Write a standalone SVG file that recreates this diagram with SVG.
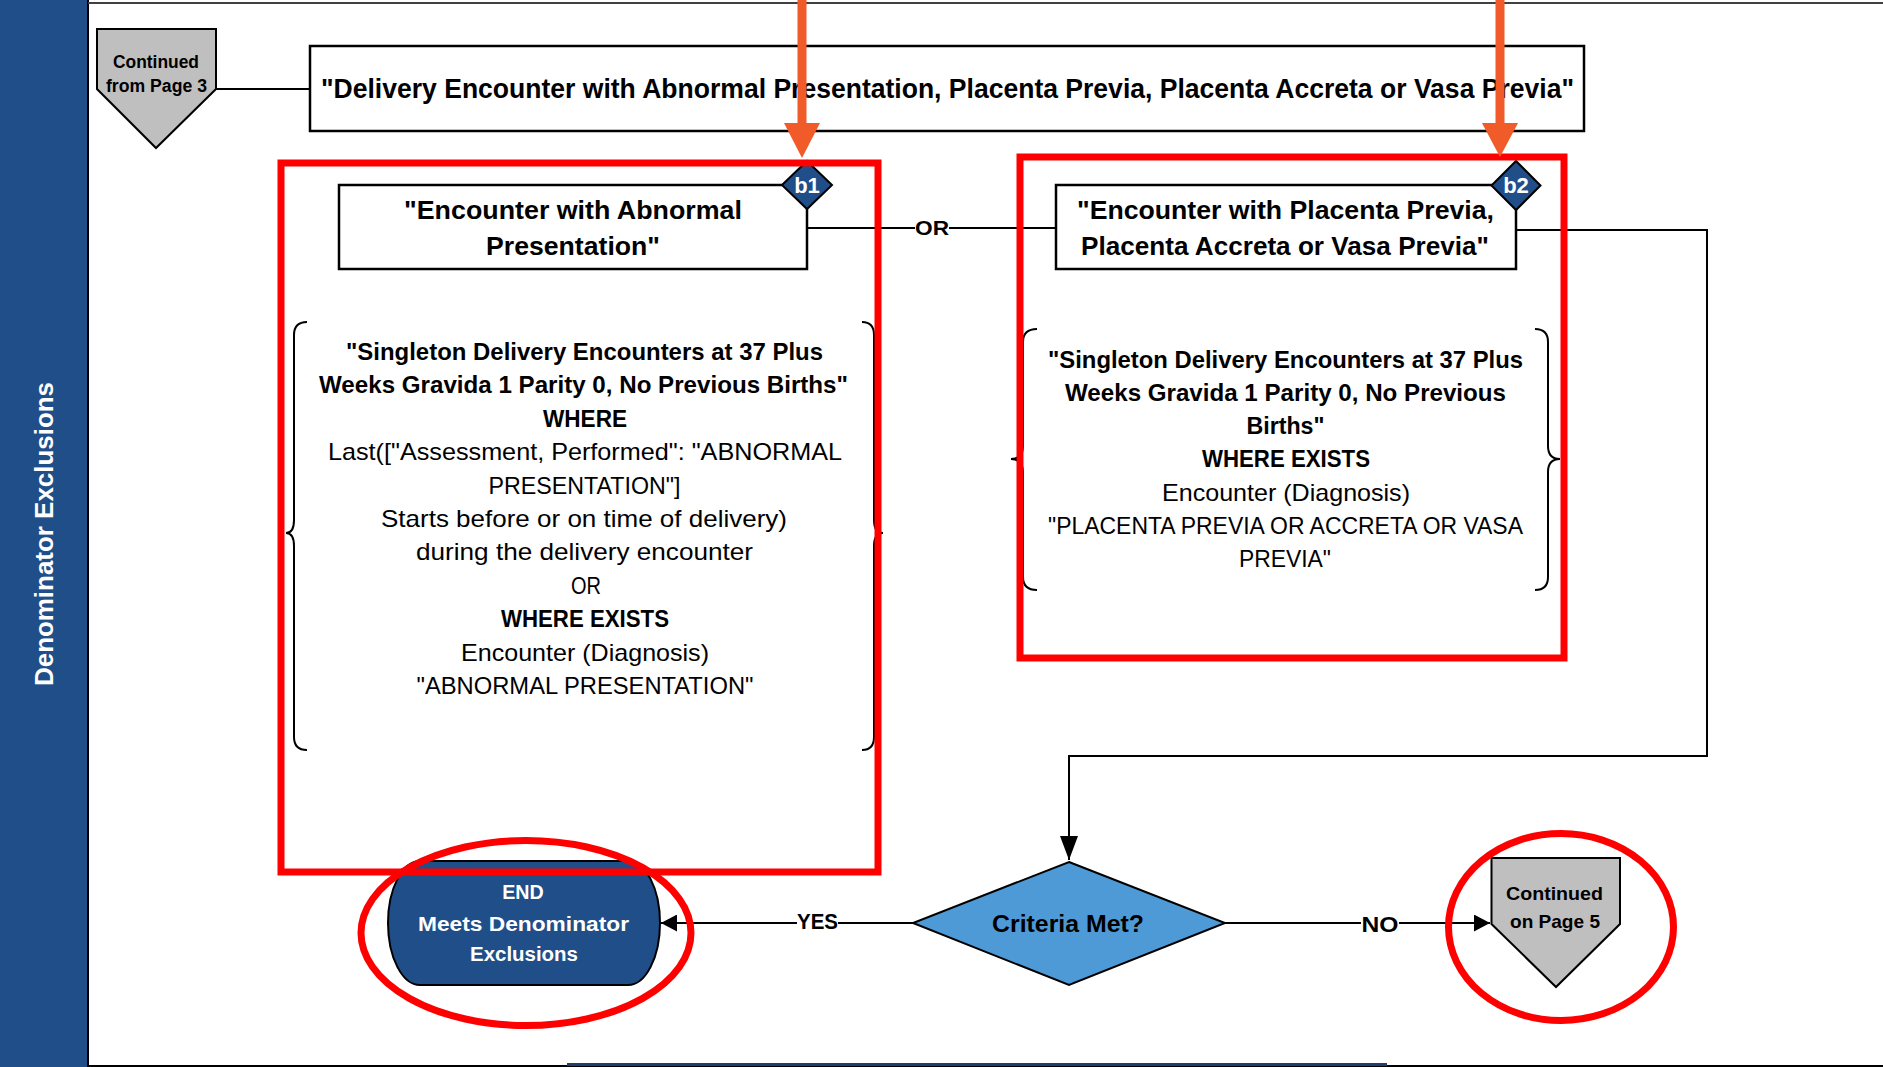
<svg xmlns="http://www.w3.org/2000/svg" width="1883" height="1067" viewBox="0 0 1883 1067">
<defs>
<style>
text{font-family:"Liberation Sans",Arial,sans-serif;text-anchor:middle;fill:#000}
.b{font-weight:bold}
.w{fill:#fff}
.box{fill:#fff;stroke:#000;stroke-width:2.5}
.conn{fill:none;stroke:#000;stroke-width:2}
.red{fill:none;stroke:#ff0000;stroke-width:7}
.brace{fill:none;stroke:#000;stroke-width:2}
.tag{fill:#1f4e88;stroke:#000;stroke-width:2}
.off{fill:#bfbfbf;stroke:#000;stroke-width:2}
.orange{stroke:#f15a29;stroke-width:9}
.orangehead{fill:#f15a29}
.lbg{fill:#fff}
.body{font-size:24px}
.title{font-size:26px}
</style>
<marker id="ah" markerWidth="16" markerHeight="17" refX="16" refY="8.5" orient="auto" markerUnits="userSpaceOnUse"><path d="M0,0 L16,8.5 L0,17 Z" fill="#000"/></marker>
<marker id="ahL" markerWidth="24" markerHeight="18" refX="24" refY="9" orient="auto" markerUnits="userSpaceOnUse"><path d="M0,0 L24,9 L0,18 Z" fill="#000"/></marker>
</defs>
<rect x="0" y="0" width="1883" height="1067" fill="#fff"/>
<g id="lane">
<rect x="0" y="0" width="88" height="1067" fill="#1f4e88"/>
<line x1="88" y1="0" x2="88" y2="1067" stroke="#000" stroke-width="2"/>
<line x1="88" y1="3" x2="1883" y2="3" stroke="#404040" stroke-width="2"/>
<line x1="88" y1="1066" x2="1883" y2="1066" stroke="#000" stroke-width="2"/>
<line x1="567" y1="1064.5" x2="1387" y2="1064.5" stroke="#1f3f6e" stroke-width="3"/>
<text class="b w" transform="translate(53,534) rotate(-90)" x="0" y="0" font-size="26" textLength="304" lengthAdjust="spacingAndGlyphs">Denominator Exclusions</text>
</g>
<g id="connectors">
<line class="conn" x1="216" y1="89" x2="310" y2="89"/>
<line class="conn" x1="807" y1="228" x2="1056" y2="228"/>
<rect class="lbg" x="915" y="218" width="34" height="20"/>
<text class="b" x="932" y="235" font-size="21" textLength="34" lengthAdjust="spacingAndGlyphs">OR</text>
<path class="conn" d="M1516,230 L1707,230 L1707,756 L1069,756 L1069,860" marker-end="url(#ahL)"/>
<line class="conn" x1="913" y1="923" x2="661" y2="923" marker-end="url(#ah)"/>
<rect class="lbg" x="797" y="911" width="41" height="21"/>
<text class="b" x="817.5" y="928.5" font-size="22" textLength="41" lengthAdjust="spacingAndGlyphs">YES</text>
<line class="conn" x1="1225" y1="923" x2="1490" y2="923" marker-end="url(#ah)"/>
<rect class="lbg" x="1361" y="913" width="38" height="20"/>
<text class="b" x="1380" y="931.5" font-size="22" textLength="37" lengthAdjust="spacingAndGlyphs">NO</text>
</g>
<g id="from-page-3">
<polygon class="off" points="97,29 216,29 216,89 156,148 97,89"/>
<text class="b" x="156" y="68" font-size="17.5" textLength="86" lengthAdjust="spacingAndGlyphs">Continued</text>
<text class="b" x="156.5" y="91.5" font-size="17.5" textLength="101" lengthAdjust="spacingAndGlyphs">from Page 3</text>
</g>
<g id="header">
<rect class="box" x="310" y="46" width="1274" height="85"/>
<text class="b" x="947.5" y="97.5" font-size="27" textLength="1253" lengthAdjust="spacingAndGlyphs">"Delivery Encounter with Abnormal Presentation, Placenta Previa, Placenta Accreta or Vasa Previa"</text>
</g>
<g id="b1">
<rect class="box" x="339" y="185" width="468" height="84"/>
<text class="b title" x="573" y="218.5" textLength="338" lengthAdjust="spacingAndGlyphs">"Encounter with Abnormal</text>
<text class="b title" x="573" y="254.5" textLength="174" lengthAdjust="spacingAndGlyphs">Presentation"</text>
<polygon class="tag" points="807,161 832,185 807,209 782,185"/>
<text class="b w" x="807" y="193" font-size="22">b1</text>
</g>
<g id="b1-criteria">
<path class="brace" d="M307,322 Q294,322 294,335 L294,520 Q294,533 286,533 Q294,533 294,546 L294,737 Q294,750 307,750"/>
<path class="brace" d="M862,322 Q874,322 874,335 L874,520 Q874,533 883,533 Q874,533 874,546 L874,737 Q874,750 862,750"/>
<text class="b body" x="584.5" y="360" textLength="477" lengthAdjust="spacingAndGlyphs">"Singleton Delivery Encounters at 37 Plus</text>
<text class="b body" x="583.5" y="393.4" textLength="529" lengthAdjust="spacingAndGlyphs">Weeks Gravida 1 Parity 0, No Previous Births"</text>
<text class="b body" x="585" y="426.8" textLength="84" lengthAdjust="spacingAndGlyphs">WHERE</text>
<text class="body" x="585" y="460.2" textLength="514" lengthAdjust="spacingAndGlyphs">Last(["Assessment, Performed": "ABNORMAL</text>
<text class="body" x="584.5" y="493.6" textLength="192" lengthAdjust="spacingAndGlyphs">PRESENTATION"]</text>
<text class="body" x="584" y="527" textLength="406" lengthAdjust="spacingAndGlyphs">Starts before or on time of delivery)</text>
<text class="body" x="584.5" y="560.4" textLength="337" lengthAdjust="spacingAndGlyphs">during the delivery encounter</text>
<text class="body" x="586" y="593.8" textLength="30" lengthAdjust="spacingAndGlyphs">OR</text>
<text class="b body" x="585" y="627.2" textLength="168" lengthAdjust="spacingAndGlyphs">WHERE EXISTS</text>
<text class="body" x="585" y="660.6" textLength="248" lengthAdjust="spacingAndGlyphs">Encounter (Diagnosis)</text>
<text class="body" x="585" y="694" textLength="337" lengthAdjust="spacingAndGlyphs">"ABNORMAL PRESENTATION"</text>
</g>
<g id="b2">
<rect class="box" x="1056" y="185" width="460" height="84"/>
<text class="b title" x="1285.5" y="218.5" textLength="417" lengthAdjust="spacingAndGlyphs">"Encounter with Placenta Previa,</text>
<text class="b title" x="1285" y="254.5" textLength="408" lengthAdjust="spacingAndGlyphs">Placenta Accreta or Vasa Previa"</text>
<polygon class="tag" points="1516,161 1540.5,185.5 1516,210 1491.5,185.5"/>
<text class="b w" x="1516" y="193" font-size="22">b2</text>
</g>
<g id="b2-criteria">
<path class="brace" d="M1037,329 Q1023,329 1023,342 L1023,446 Q1023,459 1011,459 Q1023,459 1023,472 L1023,577 Q1023,590 1037,590"/>
<path class="brace" d="M1535,329 Q1548,329 1548,342 L1548,446 Q1548,459 1560,459 Q1548,459 1548,472 L1548,577 Q1548,590 1535,590"/>
<text class="b body" x="1285.5" y="367.5" textLength="475" lengthAdjust="spacingAndGlyphs">"Singleton Delivery Encounters at 37 Plus</text>
<text class="b body" x="1285.5" y="400.8" textLength="441" lengthAdjust="spacingAndGlyphs">Weeks Gravida 1 Parity 0, No Previous</text>
<text class="b body" x="1285.5" y="434.1" textLength="78" lengthAdjust="spacingAndGlyphs">Births"</text>
<text class="b body" x="1286" y="467.4" textLength="168" lengthAdjust="spacingAndGlyphs">WHERE EXISTS</text>
<text class="body" x="1286" y="500.7" textLength="248" lengthAdjust="spacingAndGlyphs">Encounter (Diagnosis)</text>
<text class="body" x="1285.5" y="534" textLength="475" lengthAdjust="spacingAndGlyphs">"PLACENTA PREVIA OR ACCRETA OR VASA</text>
<text class="body" x="1285" y="567.3" textLength="92" lengthAdjust="spacingAndGlyphs">PREVIA"</text>
</g>
<g id="criteria-met">
<polygon points="1069,862 1225,923 1069,985 913,923" fill="#4e9ad6" stroke="#000" stroke-width="2"/>
<text class="b" x="1068" y="931.5" font-size="23" textLength="152" lengthAdjust="spacingAndGlyphs">Criteria Met?</text>
</g>
<g id="end">
<path d="M420,861 L628,861 A32,62 0 0 1 628,985 L420,985 A32,62 0 0 1 420,861 Z" fill="#1f4e88" stroke="#000" stroke-width="2"/>
<text class="b w" x="523" y="899" font-size="20" textLength="41.5" lengthAdjust="spacingAndGlyphs">END</text>
<text class="b w" x="523.5" y="930.7" font-size="20" textLength="211" lengthAdjust="spacingAndGlyphs">Meets Denominator</text>
<text class="b w" x="524" y="960.7" font-size="20" textLength="108" lengthAdjust="spacingAndGlyphs">Exclusions</text>
</g>
<g id="to-page-5">
<polygon class="off" points="1491.5,858 1620,858 1620,924 1556,987 1491.5,924"/>
<text class="b" x="1554.5" y="900" font-size="19" textLength="97" lengthAdjust="spacingAndGlyphs">Continued</text>
<text class="b" x="1555" y="928" font-size="19" textLength="90" lengthAdjust="spacingAndGlyphs">on Page 5</text>
</g>
<g id="highlights">
<rect class="red" x="281" y="163" width="597" height="709"/>
<rect class="red" x="1020" y="157" width="544" height="501"/>
<ellipse class="red" cx="526" cy="933" rx="165" ry="92.5"/>
<ellipse class="red" cx="1561" cy="927" rx="112.5" ry="93.5"/>
</g>
<g id="callout-arrows">
<line class="orange" x1="802" y1="0" x2="802" y2="126"/>
<polygon class="orangehead" points="784,123 820,123 802,158"/>
<line class="orange" x1="1500" y1="0" x2="1500" y2="126"/>
<polygon class="orangehead" points="1482,123 1518,123 1500,157"/>
</g>
</svg>
